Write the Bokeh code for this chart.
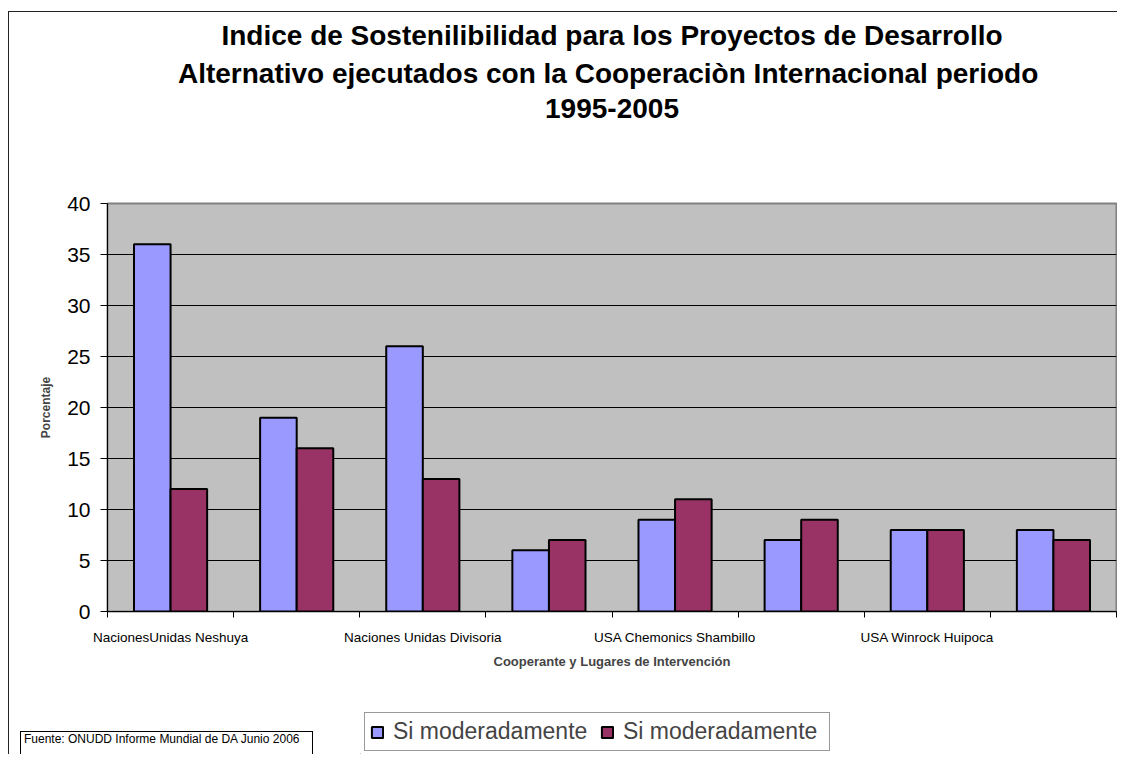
from bokeh.plotting import figure
from bokeh.layouts import column, row
from bokeh.models import (Title, Legend, LegendItem, FixedTicker, Div,
                          Range1d, ColumnDataSource)
from bokeh.transform import dodge
from bokeh.embed import file_html
from bokeh.resources import INLINE

# ---------------- data ----------------
categories = ["NacionesUnidas Neshuya", "", "Naciones Unidas Divisoria", "",
              "USA Chemonics Shambillo", "", "USA Winrock Huipoca", ""]
serie_a = [36, 19, 26, 6, 9, 7, 8, 8]
serie_b = [12, 16, 13, 7, 11, 9, 8, 7]
series_names = ["Si moderadamente", "Si moderadamente"]
series_colors = ["#9999FF", "#993366"]
y_ticks = [0, 5, 10, 15, 20, 25, 30, 35, 40]
title_lines = ["Indice de Sostenilibilidad para los Proyectos de Desarrollo",
               "Alternativo ejecutados con la Cooperaciòn Internacional  periodo",
               "1995-2005"]
x_label = "Cooperante y Lugares de Intervención"
y_label = "Porcentaje"
source_note = "Fuente: ONUDD Informe Mundial de DA Junio 2006"

FONT = "Liberation Sans"
n = len(categories)
centers = [i + 0.5 for i in range(n)]
src = ColumnDataSource(dict(x=centers, a=serie_a, b=serie_b))

W = 1108
p = figure(width=W, height=688, output_backend="svg", toolbar_location=None,
           x_range=Range1d(0, n), y_range=Range1d(0, 40),
           min_border_left=98, min_border_right=1,
           min_border_top=191, min_border_bottom=89,
           background_fill_color="#C0C0C0", border_fill_color="white",
           outline_line_color="#808080", outline_line_width=2)


def title_line(txt, standoff=6):
    return Title(text=txt, align="center", text_font=FONT,
                 text_font_size="28px", text_font_style="bold",
                 text_color="black", standoff=standoff)


# title: topmost line is the plot title, the rest stack towards the frame
p.title = title_line(title_lines[0], standoff=4)
p.add_layout(Title(text=" ", text_font_size="12px", standoff=65), "above")  # spacer
p.add_layout(title_line(title_lines[2], standoff=10), "above")
p.add_layout(title_line(title_lines[1]), "above")

bw = 0.29
ra = p.vbar(x=dodge("x", -bw / 2, range=p.x_range), top="a", width=bw,
            bottom=0, source=src, fill_color=series_colors[0],
            line_color="black", line_width=2)
rb = p.vbar(x=dodge("x", bw / 2, range=p.x_range), top="b", width=bw,
            bottom=0, source=src, fill_color=series_colors[1],
            line_color="black", line_width=2)

# grid
p.xgrid.visible = False
p.ygrid.ticker = FixedTicker(ticks=y_ticks)
p.ygrid.grid_line_color = "black"
p.ygrid.grid_line_width = 1

# y axis
p.yaxis.ticker = FixedTicker(ticks=y_ticks)
p.yaxis.axis_label = y_label
p.yaxis.axis_label_text_font = FONT
p.yaxis.axis_label_text_font_size = "12px"
p.yaxis.axis_label_text_font_style = "bold"
p.yaxis.axis_label_standoff = 11
p.yaxis.major_label_text_font = FONT
p.yaxis.major_label_text_font_size = "21px"
p.yaxis.major_label_text_color = "black"
p.yaxis.major_label_standoff = 10
p.yaxis.major_tick_out = 7
p.yaxis.major_tick_in = 0
p.yaxis.minor_tick_line_color = None
p.yaxis.axis_line_color = "black"
p.yaxis.major_tick_line_color = "black"

# x axis
p.xaxis.ticker = FixedTicker(ticks=centers, minor_ticks=list(range(n + 1)))
p.xaxis.major_label_overrides = {c: lab for c, lab in zip(centers, categories)}
p.xaxis.major_tick_line_color = None
p.xaxis.major_tick_out = 6
p.xaxis.major_tick_in = 0
p.xaxis.minor_tick_out = 6
p.xaxis.minor_tick_in = 0
p.xaxis.minor_tick_line_color = "black"
p.xaxis.axis_line_color = "black"
p.xaxis.major_label_text_font = FONT
p.xaxis.major_label_text_font_size = "13.5px"
p.xaxis.major_label_text_color = "black"
p.xaxis.major_label_standoff = 12
p.xaxis.axis_label = x_label
p.xaxis.axis_label_text_font = FONT
p.xaxis.axis_label_text_font_size = "13px"
p.xaxis.axis_label_text_font_style = "bold"
p.xaxis.axis_label_standoff = 6

# ---------- bottom strip: source note (left) and legend (right) ----------
NOTE_W = 351
note = Div(text=(f'<div style="margin:31px 0 0 11px; width:293px; height:40px; '
                 f'border:1.5px solid #000; padding:0 0 0 3px; '
                 f'font-family:\'{FONT}\'; font-size:12px; color:#000; '
                 f'line-height:14px; white-space:nowrap;">{source_note}</div>'),
           width=NOTE_W, height=54, margin=0, styles={"overflow": "hidden"})

q = figure(width=W - NOTE_W, height=54, output_backend="svg",
           toolbar_location=None, x_range=Range1d(0, 1), y_range=Range1d(0, 1),
           x_axis_type=None, y_axis_type=None, min_border=0,
           outline_line_color=None, background_fill_color="white",
           border_fill_color="white")
# legend swatches: zero-height, off-range bars; only their styles are shown
la = q.vbar(x=[-5], top=[0], bottom=[0], width=0.01,
            fill_color=series_colors[0], line_color="black", line_width=2)
lb = q.vbar(x=[-5], top=[0], bottom=[0], width=0.01,
            fill_color=series_colors[1], line_color="black", line_width=2)

legend = Legend(items=[LegendItem(label=series_names[0], renderers=[la]),
                       LegendItem(label=series_names[1], renderers=[lb])],
                orientation="horizontal", location=(4, 3),
                label_text_font=FONT, label_text_font_size="23px",
                label_width=201,
                glyph_width=14, glyph_height=14, label_standoff=9,
                spacing=6, padding=5, margin=0,
                border_line_color="#333333", border_line_width=1.5,
                background_fill_color="white", background_fill_alpha=1)
q.add_layout(legend, "center")

layout = column(p, row(note, q, spacing=0), spacing=0,
                styles={"margin-left": "8px", "margin-top": "11px",
                        "border-left": "1px solid #222",
                        "border-top": "1px solid #222"})

open("out.html", "w").write(file_html(layout, INLINE))
